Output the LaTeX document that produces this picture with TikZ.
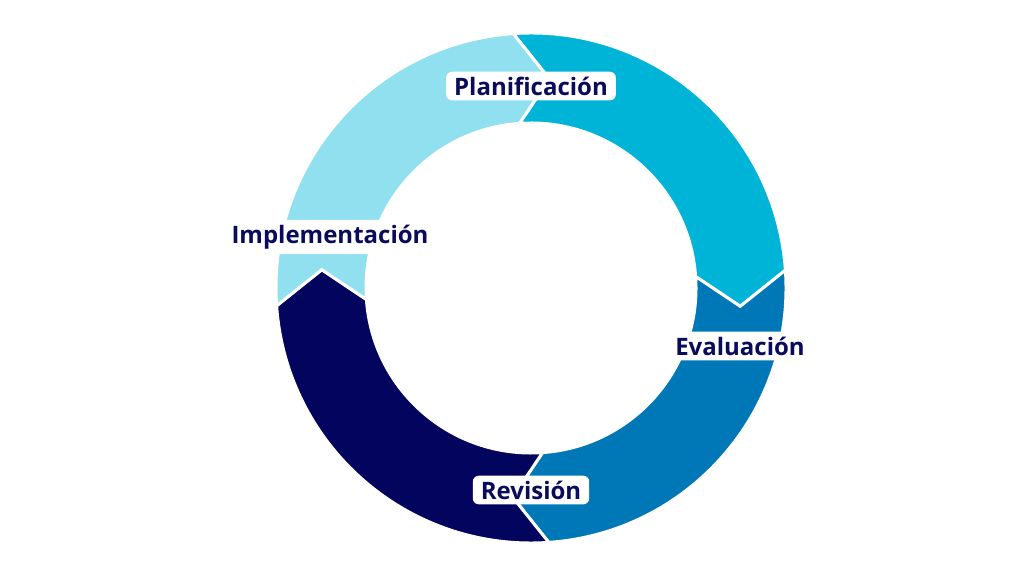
\documentclass[tikz,border=0pt]{standalone}
\usepackage{fontspec}
\setmainfont{Open Sans}
\usetikzlibrary{calc}
\definecolor{planc}{HTML}{00B4D8}
\definecolor{evalc}{HTML}{0077B6}
\definecolor{revc}{HTML}{03045E}
\definecolor{implc}{HTML}{90E0EF}
\definecolor{textc}{HTML}{0B0B5C}
\begin{document}
\begin{tikzpicture}[x=1pt,y=1pt,
  label/.style={fill=white,rounded corners=6pt,inner xsep=8pt,inner ysep=5pt,text=textc,font=\fontsize{24}{28}\selectfont\bfseries}]
  \useasboundingbox (0,0) rectangle (1024,576);
  \coordinate (c) at (531,288);

  % ring segments, each ending in a chevron
  \foreach \a/\b/\col in {90/0/planc, 0/-90/evalc, -90/-180/revc, 180/90/implc}
    \filldraw[fill=\col,draw=white,line width=3pt,line join=miter]
      ($(c)+(\a+4:255)$) arc[start angle=\a+4,end angle=\b+4,radius=255]
      -- ($(c)+(\b-5:210)$) -- ($(c)+(\b+4:165)$)
      arc[start angle=\b+4,end angle=\a+4,radius=165]
      -- ($(c)+(\a-5:210)$) -- cycle;

  \node[label] (plan) at (531,490) {Planificación};
  \node[label] (eval) at (740,230) {Evaluación};
  \node[label] (rev) at (531,86) {Revisión};
  \node[label] (impl) at (330,339) {Implementación};
\end{tikzpicture}
\end{document}
